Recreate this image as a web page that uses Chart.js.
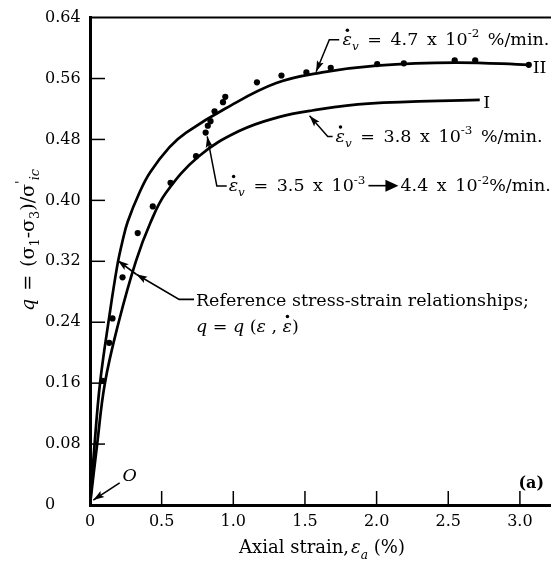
<!DOCTYPE html>
<html><head><meta charset="utf-8">
<script src="https://cdn.jsdelivr.net/npm/chart.js@4/dist/chart.umd.min.js"></script>
<style>html,body{margin:0;padding:0;background:#fff;overflow:hidden}</style>
</head><body>
<canvas id="c" width="554" height="561"></canvas>
<script>
// ---- data ----
const xTicks = [0, 0.5, 1.0, 1.5, 2.0, 2.5, 3.0];
const yTicks = [0, 0.08, 0.16, 0.24, 0.32, 0.40, 0.48, 0.56, 0.64];

const curveIIStrain = [0, 0.03, 0.07, 0.135, 0.19, 0.225, 0.263, 0.347, 0.42, 0.555, 0.671, 0.948, 1.3, 1.62, 2.0, 2.55, 3.06];
const curveIIQ      = [0, 0.075, 0.16, 0.248, 0.314, 0.345, 0.372, 0.411, 0.437, 0.47, 0.489, 0.521, 0.554, 0.568, 0.577, 0.581, 0.578];

const curveIStrain = [0, 0.05, 0.104, 0.2, 0.32, 0.42, 0.53, 0.76, 1.04, 1.31, 1.55, 1.94, 2.72];
const curveIQ      = [0, 0.08, 0.16, 0.24, 0.32, 0.37, 0.41, 0.458, 0.491, 0.509, 0.518, 0.527, 0.532];

const testStrain = [0.09, 0.134, 0.157, 0.227, 0.333, 0.438, 0.562, 0.74, 0.807, 0.822, 0.841, 0.869, 0.928, 0.944, 1.165, 1.336, 1.51, 1.68, 2.004, 2.19, 2.545, 2.688, 3.062];
const testQ      = [0.163, 0.213, 0.245, 0.299, 0.357, 0.392, 0.423, 0.458, 0.489, 0.498, 0.504, 0.517, 0.529, 0.536, 0.555, 0.564, 0.568, 0.574, 0.579, 0.580, 0.584, 0.584, 0.578];

const zip = (xs, ys) => xs.map((x, i) => ({x, y: ys[i]}));

// ---- text helpers ----
const FAM = '"DejaVu Serif", "Liberation Serif", serif';
function setFont(ctx, size, it, b) { ctx.font = (it ? 'italic ' : '') + (b ? 'bold ' : '') + size + 'px ' + FAM; }
function textRun(ctx, t, x, y, sp, draw) {
  if (sp == null) { if (draw) ctx.fillText(t, x, y); return ctx.measureText(t).width; }
  const parts = t.split(' ');
  let cx = x;
  parts.forEach((p, k) => {
    if (k > 0) cx += sp;
    if (p) { if (draw) ctx.fillText(p, cx, y); cx += ctx.measureText(p).width; }
  });
  return cx - x;
}
function segW(ctx, s, size, sp) {
  if (s.arrow) return s.arrow;
  if (s.gap) return s.gap;
  setFont(ctx, s.s ? size * 0.68 : size, s.i, s.b);
  return textRun(ctx, s.t, 0, 0, s.s ? null : sp, false);
}
function richW(ctx, segs, size, sp) { return segs.reduce((a, s) => a + segW(ctx, s, size, sp), 0); }
function drawRich(ctx, x, yMid, segs, size, sp) {
  const y = yMid + size * 0.36;
  ctx.textBaseline = 'alphabetic'; ctx.textAlign = 'left'; ctx.fillStyle = '#000';
  let cx = x;
  for (const s of segs) {
    if (s.gap) { cx += s.gap; continue; }
    if (s.arrow) {
      const ay = y - size * 0.33;
      ctx.lineWidth = 1.6; ctx.strokeStyle = '#000';
      ctx.beginPath(); ctx.moveTo(cx + 1, ay); ctx.lineTo(cx + s.arrow - 6, ay); ctx.stroke();
      ctx.beginPath(); ctx.moveTo(cx + s.arrow - 1, ay); ctx.lineTo(cx + s.arrow - 14, ay - 6); ctx.lineTo(cx + s.arrow - 14, ay + 6); ctx.closePath(); ctx.fill();
      cx += s.arrow; continue;
    }
    const sz = s.s ? size * 0.68 : size;
    setFont(ctx, sz, s.i, s.b);
    const dy = s.s === 'sub' ? size * 0.28 : s.s === 'sup' ? -size * 0.45 : 0;
    const w = textRun(ctx, s.t, cx, y + dy, s.s ? null : sp, true);
    if (s.dot) { ctx.beginPath(); ctx.arc(cx + w * 0.52, y - size * 0.86, size * 0.1, 0, Math.PI * 2); ctx.fill(); }
    cx += w;
  }
  return cx - x;
}
function arrowHead(ctx, fx, fy, tx, ty, len = 11, hw = 3.6) {
  const a = Math.atan2(ty - fy, tx - fx), c = Math.cos(a), s = Math.sin(a);
  ctx.beginPath(); ctx.moveTo(tx, ty);
  ctx.lineTo(tx - len * c + hw * s, ty - len * s - hw * c);
  ctx.lineTo(tx - len * c * 0.8, ty - len * s * 0.8);
  ctx.lineTo(tx - len * c - hw * s, ty - len * s + hw * c);
  ctx.closePath(); ctx.fill();
}

const epsDot = {t: 'ε', i: true, dot: true};
const subV = {t: 'v', i: true, s: 'sub'};

const decor = {
  id: 'decor',
  afterDraw(chart) {
    const {ctx, chartArea: A, scales: {x, y}} = chart;
    const X = v => x.getPixelForValue(v), Y = v => y.getPixelForValue(v);
    ctx.save();
    ctx.strokeStyle = '#000'; ctx.fillStyle = '#000';
    // top border
    ctx.lineWidth = 2;
    ctx.beginPath(); ctx.moveTo(A.left - 1, A.top); ctx.lineTo(A.right + 1, A.top); ctx.stroke();
    // inside ticks
    ctx.lineWidth = 1.5;
    yTicks.forEach(v => { if (v > 0 && v < 0.64) { ctx.beginPath(); ctx.moveTo(A.left, Y(v)); ctx.lineTo(A.left + 15, Y(v)); ctx.stroke(); } });
    xTicks.forEach(v => { if (v > 0) { ctx.beginPath(); ctx.moveTo(X(v), A.bottom); ctx.lineTo(X(v), A.bottom - 14); ctx.stroke(); } });

    const F = 17.5, SP = 8.6;
    ctx.lineWidth = 1.5;
    // annotation: 4.7 x 10^-2
    ctx.beginPath(); ctx.moveTo(X(1.739), Y(0.611)); ctx.lineTo(X(1.670), Y(0.611)); ctx.lineTo(X(1.578), Y(0.569)); ctx.stroke();
    arrowHead(ctx, X(1.670), Y(0.611), X(1.578), Y(0.569));
    drawRich(ctx, X(1.762), Y(0.612), [epsDot, subV, {t: ' = 4.7 x 10'}, {t: '-2', s: 'sup'}, {t: ' %/min.'}], F, SP);
    // annotation: 3.8 x 10^-3
    ctx.beginPath(); ctx.moveTo(X(1.693), Y(0.484)); ctx.lineTo(X(1.659), Y(0.484)); ctx.lineTo(X(1.532), Y(0.511)); ctx.stroke();
    arrowHead(ctx, X(1.659), Y(0.484), X(1.532), Y(0.511));
    drawRich(ctx, X(1.714), Y(0.485), [epsDot, subV, {t: ' = 3.8 x 10'}, {t: '-3', s: 'sup'}, {t: ' %/min.'}], F, SP);
    // annotation: 3.5e-3 -> 4.4e-2
    ctx.beginPath(); ctx.moveTo(X(0.954), Y(0.419)); ctx.lineTo(X(0.885), Y(0.419)); ctx.lineTo(X(0.818), Y(0.484)); ctx.stroke();
    arrowHead(ctx, X(0.885), Y(0.419), X(0.818), Y(0.484));
    drawRich(ctx, X(0.968), Y(0.420), [epsDot, subV, {t: ' = 3.5 x 10'}, {t: '-3', s: 'sup'}, {gap: 2}, {arrow: 32}, {gap: 1}, {t: '4.4 x 10'}, {t: '-2', s: 'sup'}, {t: '%/min.'}], F, SP);
    // Reference annotation
    ctx.beginPath(); ctx.moveTo(X(0.726), Y(0.270)); ctx.lineTo(X(0.622), Y(0.270)); ctx.lineTo(X(0.323), Y(0.303)); ctx.stroke();
    ctx.beginPath(); ctx.moveTo(X(0.323), Y(0.303)); ctx.lineTo(X(0.194), Y(0.321)); ctx.stroke();
    arrowHead(ctx, X(0.622), Y(0.270), X(0.323), Y(0.303));
    arrowHead(ctx, X(0.323), Y(0.303), X(0.194), Y(0.321));
    drawRich(ctx, X(0.739), Y(0.270), [{t: 'Reference stress-strain relationships;'}], F);
    drawRich(ctx, X(0.739), Y(0.236), [{t: 'q', i: true}, {t: ' = '}, {t: 'q', i: true}, {t: ' ('}, {t: 'ε', i: true}, {t: ' , '}, epsDot, {t: ')'}], F);
    // curve labels
    drawRich(ctx, X(2.744), Y(0.530), [{t: 'I'}], F);
    drawRich(ctx, X(3.089), Y(0.575), [{t: 'II'}], F);
    // origin label
    ctx.beginPath(); ctx.moveTo(X(0.207), Y(0.029)); ctx.lineTo(X(0.023), Y(0.0065)); ctx.stroke();
    arrowHead(ctx, X(0.207), Y(0.029), X(0.023), Y(0.0065));
    drawRich(ctx, X(0.226), Y(0.040), [{t: 'O', i: true}], F);
    // (a)
    setFont(ctx, 16, false, true);
    const wa = ctx.measureText('(a)').width;
    drawRich(ctx, X(3.168) - wa, Y(0.030), [{t: '(a)', b: true}], 16);

    // axis titles
    const FT = 18;
    const xt = [{t: 'Axial strain,'}, {gap: 2}, {t: 'ε', i: true}, {t: 'a', i: true, s: 'sub'}, {t: ' (%)'}];
    drawRich(ctx, 322 - richW(ctx, xt, FT) / 2, 547, xt, FT);
    const FY = 19;
    const yt = [{t: 'q', i: true}, {t: ' = ('}, {t: 'σ'}, {t: '1', s: 'sub'}, {t: '-'}, {t: 'σ'}, {t: '3', s: 'sub'}, {t: ')/'}, {t: 'σ'}, {t: '\'', s: 'sup'}, {t: 'ic', i: true, s: 'sub'}];
    ctx.translate(27, 240); ctx.rotate(-Math.PI / 2);
    drawRich(ctx, -richW(ctx, yt, FY, 8) / 2, 0, yt, FY, 8);
    ctx.restore();
  }
};

new Chart(document.getElementById('c'), {
  type: 'scatter',
  data: {
    datasets: [
      {label: 'II', data: zip(curveIIStrain, curveIIQ), showLine: true, borderColor: '#000', borderWidth: 2.7, pointRadius: 0, tension: 0.4, fill: false},
      {label: 'I', data: zip(curveIStrain, curveIQ), showLine: true, borderColor: '#000', borderWidth: 2.7, pointRadius: 0, tension: 0.4, fill: false},
      {label: 'tests', data: zip(testStrain, testQ), showLine: false, pointRadius: 3.1, backgroundColor: '#000', borderWidth: 0}
    ]
  },
  options: {
    responsive: false, animation: false,
    layout: {padding: {top: 12, left: 45, right: 1, bottom: 0}},
    plugins: {legend: {display: false}, tooltip: {enabled: false}},
    scales: {
      x: {
        type: 'linear', min: 0, max: 3.21,
        afterBuildTicks: s => { s.ticks = xTicks.map(v => ({value: v})); },
        afterFit: s => { s.height = 56; },
        grid: {display: false, drawTicks: false},
        border: {display: true, width: 3, color: '#000'},
        ticks: {color: '#000', font: {family: FAM, size: 16}, padding: 7, maxRotation: 0, autoSkip: false,
          callback: v => v === 0 ? '0' : v.toFixed(1)}
      },
      y: {
        type: 'linear', min: 0, max: 0.64,
        afterBuildTicks: s => { s.ticks = yTicks.map(v => ({value: v})); },
        afterFit: s => { s.width = 45; },
        grid: {display: false, drawTicks: false},
        border: {display: true, width: 3, color: '#000'},
        ticks: {color: '#000', font: {family: FAM, size: 16}, padding: 8, crossAlign: 'far', autoSkip: false,
          callback: v => v === 0 ? '0' : v.toFixed(2)}
      }
    }
  },
  plugins: [decor]
});
</script>
</body></html>
